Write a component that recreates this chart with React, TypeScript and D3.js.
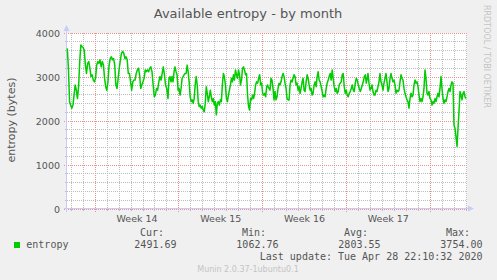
import React from "react";
import * as d3 from "d3";

// ---------- data ----------
const title = "Available entropy - by month";
const yLabel = "entropy (bytes)";
const seriesName = "entropy";
const timeDomain = ["2020-03-27T15:30:00Z", "2020-04-30T01:54:00Z"];
const yDomain = [0, 4000];
const yMajorTicks = [0, 1000, 2000, 3000, 4000];
const yMinorTicks = [200, 400, 600, 800, 1200, 1400, 1600, 1800, 2200, 2400, 2600, 2800, 3200, 3400, 3600, 3800];
const weekLabels = ["Week 14", "Week 15", "Week 16", "Week 17"];
const weekStarts = ["2020-03-30", "2020-04-06", "2020-04-13", "2020-04-20"];

// sample spans (start, end) for each run of readings
const segSpans = [
  ["2020-03-27T16:06:00Z", "2020-04-04T23:30:00Z"],
  ["2020-04-05T02:06:00Z", "2020-04-13T10:06:00Z"],
  ["2020-04-13T10:42:00Z", "2020-04-21T17:54:00Z"],
  ["2020-04-21T19:18:00Z", "2020-04-29T23:54:00Z"],
];
const seg1 = [3650,3200,2440,2360,2290,2360,2590,2820,2700,2510,2780,3350,3730,3690,3670,3610,3270,3080,3310,3350,3200,3010,3050,2930,2890,2970,3270,3350,3310,3390,3230,3350,3270,2970,2780,2700,2890,3270,3420,3460,3390,3420,3270,2820,2740,2970,3200,3390,3540,3580,3540,3420,3460,3390,3080,3080,2890,2700,2890,2930,2930,3080,3160,3200,3050,2740,2820,2890,2970,3160,3120,3160,3120,3200,3230,3120,2820,2550,2590,2740,2700,2890,3010,2930,3080,3230,3050,2820,2740];
const seg2 = [2510,2970,3010,2890,3010,2890,3120,3230,3120,3050,2700,2740,2590,2740,2970,3010,3050,3080,3080,3270,3120,2890,2550,2440,2480,2400,2510,2820,3010,2820,2440,2330,2360,2290,2330,2250,2210,2400,2780,2630,2440,2550,2700,2550,2440,2510,2360,2440,2140,2400,2440,2360,2480,2440,2820,3080,3010,2820,2510,2440,2590,2700,2820,2970,2890,3050,2930,3160,3050,2970,3160,3050,2820,2930,3200,3230,3160,3050,3080,2590,2330,2250,2510,2480,2590,2510,2630,2820,2890,2860,2970,3050,2820,2860,2630,2590,2630,2550,2780,2820];
const seg3 = [2780,2740,2700,2970,2930,2740,2480,2670,2480,2550,2740,2860,2820,2890,3010,3080,3010,2860,2740,2510,2480,2480,2820,2930,2890,2970,3050,3010,2820,2860,2700,2780,2630,2740,2890,2970,2700,2670,2890,3050,2970,2820,2700,2740,2590,2630,2820,2890,2780,3010,3120,2930,2890,2780,2670,2550,2590,2550,2740,2860,2930,3010,3080,2930,3160,2970,2780,2670,2740,2630,2670,2820,2860,2890,3050,3080,2780,2630,2700,2590,2550,2630,2670,2740,2820,2700,2670,2860,2970,2930,2820,2740,2670,2740,2820,2890,3010,3050,2860,2970];
const seg4 = [3080,2860,2700,2740,2820,2670,2590,2590,2700,2670,2780,2890,3080,2890,2820,2700,2860,2970,3080,2890,2670,2740,2970,3080,2970,2890,2930,2820,2630,2700,2670,2700,2890,3050,2970,2930,2740,2630,2550,2480,2440,2290,2510,2630,2550,2590,2820,2930,2860,2890,2780,2590,2440,2510,2440,2550,2740,3160,2970,2630,2590,2670,2510,2480,2360,2440,2400,2510,2440,2550,2630,2550,2740,3010,2740,2510,2400,2480,2440,2550,2670,2740,2670,2820,2890,2860,1910,1830,1640,1420,1830,2210,2670,2590,2480,2630,2670,2550,2510];
const segments = [seg1, seg2, seg3, seg4];

const statHeaders = ["Cur:", "Min:", "Avg:", "Max:"];
const statValues = ["2491.69", "1062.76", "2803.55", "3754.00"];
const lastUpdate = "Last update: Tue Apr 28 22:10:32 2020";
const footer = "Munin 2.0.37-1ubuntu0.1";
const watermark = "RRDTOOL / TOBI OETIKER";

// ---------- layout ----------
const W = 497;
const H = 280;
const P = { left: 67, right: 467, top: 33, bottom: 209 };
const LINE = "#00cc00";
const AXIS = "#c8ccf6";
const MINOR = "#bcbcbc";
const MAJOR = "#ec9090";
const TXT = "#555555";
const SANS = "DejaVu Sans, sans-serif";
const MONO = "DejaVu Sans Mono, monospace";

type Pt = { t: Date; v: number };

export default function App() {
  const x = d3
    .scaleUtc()
    .domain(timeDomain.map((s) => new Date(s)))
    .range([P.left, P.right]);
  const y = d3.scaleLinear().domain(yDomain).range([P.bottom, P.top]);

  const all: Pt[] = [];
  segments.forEach((vals, si) => {
    const t0 = +new Date(segSpans[si][0]);
    const t1 = +new Date(segSpans[si][1]);
    vals.forEach((v, i) => {
      all.push({ t: new Date(t0 + ((t1 - t0) * i) / (vals.length - 1)), v });
    });
  });
  const lineGen = d3
    .line<Pt>()
    .x((d) => x(d.t))
    .y((d) => y(d.v));

  const dom = x.domain();
  const days = d3.utcDay.range(dom[0], dom[1]);
  const mondays = d3.utcMonday.range(dom[0], dom[1]);
  const minorDays = days.filter((d) => d.getUTCDay() !== 1);
  const c = (v: number) => Math.floor(v) + 0.5;

  const valueEnds = [176.5, 278.5, 380.5, 482.5];

  return (
    <svg width={W} height={H} style={{ position: "fixed", left: 0, top: 0 }}>
      <rect x={0} y={0} width={W} height={H} fill="#f0f0f0" />
      <rect x={P.left} y={P.top} width={P.right - P.left} height={P.bottom - P.top} fill="#ffffff" />

      <g fill="none" strokeWidth={1} shapeRendering="crispEdges">
        {yMinorTicks.map((v) => (
          <path key={"my" + v} d={`M${P.left},${c(y(v))}H${P.right}`} stroke={MINOR} strokeDasharray="1,1" />
        ))}
        {yMinorTicks.map((v) => (
          <path key={"ty" + v} d={`M${P.left - 2},${c(y(v))}H${P.left}`} stroke={MINOR} />
        ))}
        {minorDays.map((d, i) => (
          <path key={"dx" + i} d={`M${c(x(d))},${P.top}V${P.bottom}`} stroke={MINOR} strokeDasharray="1,1" />
        ))}
        {minorDays.map((d, i) => (
          <path key={"tx" + i} d={`M${c(x(d))},${P.bottom}V${P.bottom + 2}`} stroke={MINOR} />
        ))}
        {yMajorTicks.map((v) => (
          <path key={"My" + v} d={`M${P.left - 3},${c(y(v))}H${P.right}`} stroke={MAJOR} strokeDasharray="1,1" />
        ))}
        {mondays.map((d, i) => (
          <path key={"mx" + i} d={`M${c(x(d))},${P.top}V${P.bottom + 3}`} stroke={MAJOR} strokeDasharray="1,1" />
        ))}
      </g>

      {/* axes */}
      <path d={`M${P.left - 0.5},${P.bottom + 3}V${P.top - 4}`} stroke={AXIS} fill="none" />
      <path d={`M${P.left - 3.5},${P.top - 2} L${P.left - 0.5},${P.top - 8} L${P.left + 2.5},${P.top - 2} Z`} fill={AXIS} />
      <path d={`M${P.left - 3},${P.bottom - 0.5}H${P.right + 3}`} stroke={AXIS} fill="none" />
      <path d={`M${P.right + 1},${P.bottom - 3.5} L${P.right + 7},${P.bottom - 0.5} L${P.right + 1},${P.bottom + 2.5} Z`} fill={AXIS} />

      {/* series */}
      <path d={lineGen(all) || ""} fill="none" stroke={LINE} strokeWidth={1.5} strokeLinejoin="round" />

      {/* y tick labels */}
      {yMajorTicks.map((v) => (
        <text key={"yt" + v} x={60} y={y(v) + 3.5} textAnchor="end" fontFamily={SANS} fontSize={9.5} fill={TXT}>
          {v}
        </text>
      ))}
      {/* week labels */}
      {weekLabels.map((lab, i) => {
        const s = new Date(weekStarts[i] + "T00:00:00Z");
        const e = d3.utcDay.offset(s, 7);
        return (
          <text key={lab} x={(x(s) + x(e)) / 2} y={221.5} textAnchor="middle" fontFamily={SANS} fontSize={9.5} fill={TXT}>
            {lab}
          </text>
        );
      })}

      {/* title & labels */}
      <text x={248} y={18} textAnchor="middle" fontFamily={SANS} fontSize={13} fill={TXT}>
        {title}
      </text>
      <text
        transform={`translate(14.5, ${(P.top + P.bottom) / 2 - 1}) rotate(-90)`}
        textAnchor="middle"
        fontFamily={SANS}
        fontSize={11}
        fill={TXT}
      >
        {yLabel}
      </text>
      <text transform="translate(484, 5) rotate(90)" fontFamily={SANS} fontSize={8} fill="#c4c4c4">
        {watermark}
      </text>

      {/* legend */}
      <rect x={14} y={242} width={6} height={6} fill={LINE} />
      <text x={26.3} y={248.3} fontFamily={MONO} fontSize={10} fill={TXT}>
        {seriesName}
      </text>
      {statHeaders.map((h, i) => (
        <text key={h} x={valueEnds[i] - 12.5} y={236} textAnchor="end" fontFamily={MONO} fontSize={10} fill={TXT}>
          {h}
        </text>
      ))}
      {statValues.map((v, i) => (
        <text key={"sv" + i} x={valueEnds[i]} y={248.3} textAnchor="end" fontFamily={MONO} fontSize={10} fill={TXT}>
          {v}
        </text>
      ))}
      <text x={482.5} y={260} textAnchor="end" fontFamily={MONO} fontSize={10} fill={TXT}>
        {lastUpdate}
      </text>
      <text x={248} y={271.5} textAnchor="middle" fontFamily={SANS} fontSize={8} fill="#c4c4c4">
        {footer}
      </text>
    </svg>
  );
}
